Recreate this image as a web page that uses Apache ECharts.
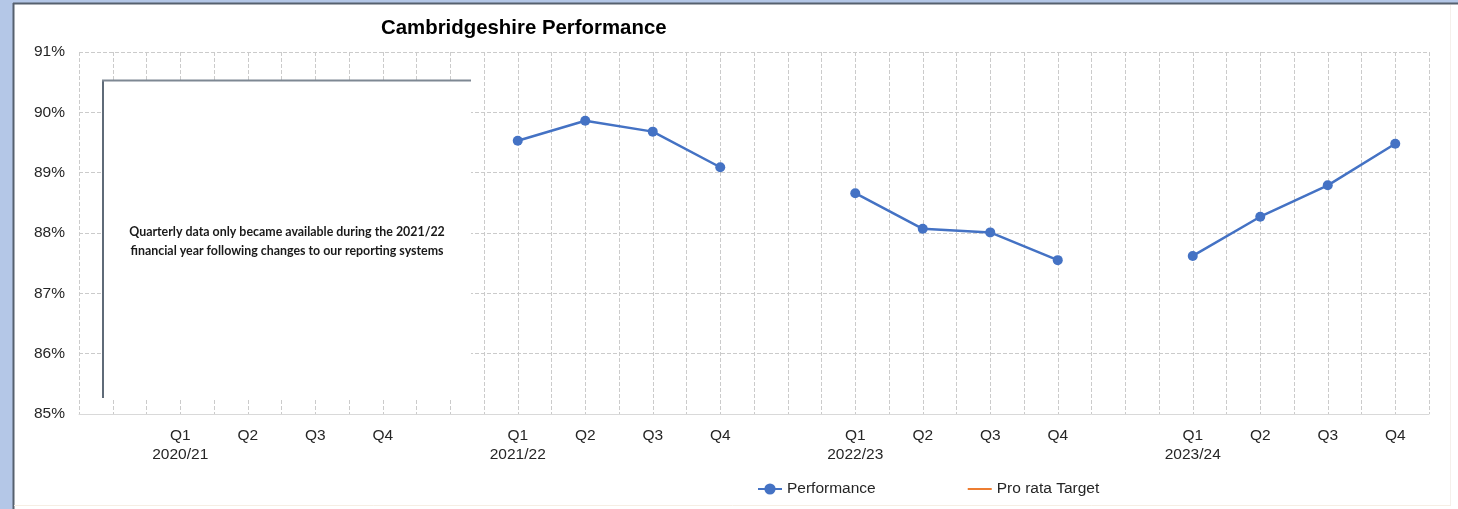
<!DOCTYPE html>
<html lang="en">
<head>
    <meta charset="utf-8">
    <title>Cambridgeshire Performance</title>
    <script src="https://cdn.jsdelivr.net/npm/echarts@6/dist/echarts.min.js"></script>
    <style>
        html, body { margin: 0; padding: 0; background: #ffffff; }
        #chart { width: 1458px; height: 509px; }
    </style>
</head>
<body>
<div id="chart"></div>
<script type="text/javascript">
// financial years and quarters shown on the x axis
var yearLabels = ['2020/21', '2021/22', '2022/23', '2023/24'];
var quarterLabels = ['Q1', 'Q2', 'Q3', 'Q4'];

// performance (%) per quarter, one array per financial year
var perf2020 = [null, null, null, null];
var perf2021 = [89.53, 89.86, 89.68, 89.09];
var perf2022 = [88.66, 88.07, 88.01, 87.55];
var perf2023 = [87.62, 88.27, 88.79, 89.48];
var perfByYear = [perf2020, perf2021, perf2022, perf2023];

// pro rata target has no values plotted
var proRataTarget = [];

var yTicks = [85, 86, 87, 88, 89, 90, 91];
var note = 'Quarterly data only became available during the 2021/22\nfinancial year following changes to our reporting systems';

// each year takes 10 slots on the axis, quarters sit on the odd slots 3,5,7,9
var slotCount = yearLabels.length * 10 + 1;
var slots = [], slotLabels = [], perfData = [];
for (var i = 0; i < slotCount; i++) {
    slots.push('s' + i);
    slotLabels.push('');
}
yearLabels.forEach(function (yr, y) {
    quarterLabels.forEach(function (q, k) {
        var idx = y * 10 + 3 + k * 2;
        slotLabels[idx] = k === 0 ? q + '\n' + yr : q;
        if (perfByYear[y][k] !== null) perfData.push([idx, perfByYear[y][k]]);
    });
    // break the line between financial years
    perfData.push([y * 10 + 11, null]);
});

var font = 'Liberation Sans, Arial, sans-serif';
var dom = document.getElementById('chart');
var myChart = echarts.init(dom);

myChart.setOption({
    backgroundColor: '#ffffff',
    animation: false,
    title: {
        text: 'Cambridgeshire Performance',
        left: 381,
        top: 18,
        padding: 0,
        textStyle: { fontFamily: font, fontSize: 20.4, fontWeight: 'bold', color: '#000000' }
    },
    legend: {
        left: 757,
        top: 481,
        padding: 0,
        itemWidth: 24,
        itemHeight: 14,
        itemGap: 91,
        textStyle: { fontFamily: font, fontSize: 15.5, color: '#262626' },
        data: ['Performance', { name: 'Pro rata Target', itemStyle: { opacity: 0 } }]
    },
    grid: { left: 79, top: 52, right: 29, bottom: 95 },
    xAxis: {
        type: 'category',
        boundaryGap: false,
        data: slots,
        axisLine: { lineStyle: { color: '#d9d9d9' } },
        axisTick: { show: false },
        axisLabel: {
            interval: 0,
            margin: 12,
            fontFamily: font,
            fontSize: 15.5,
            lineHeight: 19,
            color: '#262626',
            formatter: function (v, idx) { return slotLabels[idx]; }
        },
        splitLine: { show: true, interval: 0, lineStyle: { color: '#cbcbcb', type: [4, 2] } }
    },
    yAxis: {
        type: 'value',
        min: yTicks[0],
        max: yTicks[yTicks.length - 1],
        interval: 1,
        axisLine: { show: false },
        axisTick: { show: false },
        axisLabel: {
            margin: 14,
            fontFamily: font,
            fontSize: 15.5,
            color: '#262626',
            formatter: '{value}%'
        },
        splitLine: { lineStyle: { color: '#cbcbcb', type: [4, 2] } }
    },
    series: [
        {
            name: 'Performance',
            type: 'line',
            data: perfData,
            connectNulls: false,
            symbol: 'circle',
            symbolSize: 10,
            color: '#4472c4',
            lineStyle: { width: 2.5, color: '#4472c4' }
        },
        {
            name: 'Pro rata Target',
            type: 'line',
            data: proRataTarget,
            symbol: 'none',
            color: '#ed7d31',
            lineStyle: { width: 2, color: '#ed7d31' }
        }
    ],
    graphic: [
        // outer frame
        { type: 'rect', z: 100, shape: { x: 0, y: 0, width: 13, height: 509 }, style: { fill: '#b4c7e7' }, silent: true },
        { type: 'rect', z: 100, shape: { x: 0, y: 0, width: 1458, height: 3 }, style: { fill: '#b4c7e7' }, silent: true },
        { type: 'line', z: 100, shape: { x1: 13.5, y1: 3, x2: 13.5, y2: 509 }, style: { stroke: '#56616e', lineWidth: 2 }, silent: true },
        { type: 'line', z: 100, shape: { x1: 13, y1: 3.5, x2: 1458, y2: 3.5 }, style: { stroke: '#56616e', lineWidth: 2 }, silent: true },
        { type: 'line', z: 100, shape: { x1: 1450.5, y1: 5, x2: 1450.5, y2: 506 }, style: { stroke: '#f4f0ec', lineWidth: 1 }, silent: true },
        { type: 'line', z: 100, shape: { x1: 14, y1: 505.5, x2: 1451, y2: 505.5 }, style: { stroke: '#f6eee4', lineWidth: 1 }, silent: true },
        // note box over the 2020/21 year
        { type: 'rect', z: 100, shape: { x: 102, y: 80, width: 369, height: 318 }, style: { fill: '#ffffff' }, silent: true },
        { type: 'line', z: 101, shape: { x1: 103, y1: 80, x2: 103, y2: 398 }, style: { stroke: '#5f6b78', lineWidth: 2 }, silent: true },
        { type: 'line', z: 101, shape: { x1: 102, y1: 80.5, x2: 471, y2: 80.5 }, style: { stroke: '#7e8893', lineWidth: 2 }, silent: true },
        {
            type: 'text',
            z: 101,
            x: 287,
            y: 241,
            silent: true,
            style: {
                text: note,
                fill: '#1a1a1a',
                font: 'bold 12.4px Lato, sans-serif',
                lineHeight: 19,
                align: 'center',
                verticalAlign: 'middle'
            }
        }
    ]
});
</script>
</body>
</html>
